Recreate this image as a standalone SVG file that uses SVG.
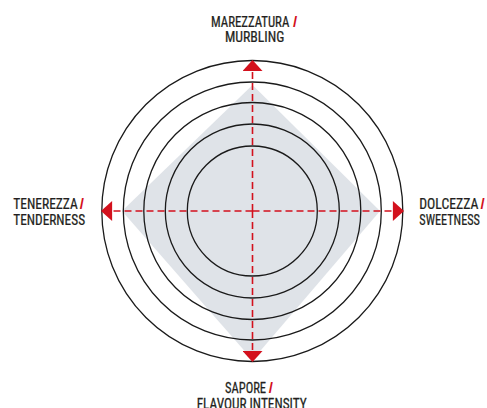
<svg xmlns="http://www.w3.org/2000/svg" width="487" height="408" viewBox="0 0 487 408">
<defs>
<style>
.ring{fill:none;stroke:#1a1a1a;stroke-width:1.3}
.axis{fill:none;stroke:#d3111d;stroke-width:1.6;stroke-dasharray:7 4}
.lbl{font-family:"Liberation Sans Narrow","Roboto Condensed","Liberation Sans",sans-serif;font-size:15px;fill:#231f20;stroke:#231f20;stroke-width:0.25}
.sl{font-family:"Liberation Sans Narrow","Liberation Sans",sans-serif;font-size:15px;font-weight:bold;fill:#d3111d}
</style>
<marker id="ah" markerUnits="userSpaceOnUse" markerWidth="12" markerHeight="20" viewBox="0 0 10 18" refX="10" refY="9" orient="auto-start-reverse">
<path d="M0,0 L10,9 L0,18 Z" fill="#d3111d"/>
</marker>
</defs>
<rect width="487" height="408" fill="#ffffff"/>
<g id="profile">
<polygon points="252.5,85 380,211 252.5,360 122,211" fill="#dfe3e8"/>
</g>
<g id="rings">
<circle class="ring" cx="252.3" cy="211" r="65"/>
<circle class="ring" cx="252.3" cy="211" r="87"/>
<circle class="ring" cx="252.3" cy="211" r="108.5"/>
<circle class="ring" cx="252.3" cy="211" r="129"/>
<circle class="ring" cx="252.3" cy="211" r="150.5"/>
</g>
<g id="connectors">
<line class="axis" x1="252.5" y1="211" x2="252.5" y2="60" marker-end="url(#ah)"/>
<line class="axis" x1="252.5" y1="211" x2="252.5" y2="362" marker-end="url(#ah)"/>
<line class="axis" x1="252.5" y1="211" x2="101" y2="211" marker-end="url(#ah)"/>
<line class="axis" x1="252.5" y1="211" x2="404" y2="211" marker-end="url(#ah)"/>
</g>
<g id="label-top">
<text class="lbl" transform="translate(211,26.5) scale(0.85,1)" textLength="92.1" lengthAdjust="spacingAndGlyphs">MAREZZATURA</text>
<text class="sl" x="293" y="26.5">/</text>
<text class="lbl" transform="translate(225,42) scale(0.91,1)" textLength="65.2" lengthAdjust="spacingAndGlyphs">MURBLING</text>
</g>
<g id="label-left">
<text class="lbl" transform="translate(13.3,209) scale(0.88,1)" textLength="73.2" lengthAdjust="spacingAndGlyphs">TENEREZZA</text>
<text class="sl" x="79.7" y="209">/</text>
<text class="lbl" transform="translate(13.3,224.6) scale(0.85,1)" textLength="84.4" lengthAdjust="spacingAndGlyphs">TENDERNESS</text>
</g>
<g id="label-right">
<text class="lbl" transform="translate(419.3,208.8) scale(0.9,1)" textLength="65.6" lengthAdjust="spacingAndGlyphs">DOLCEZZA</text>
<text class="sl" x="480.6" y="208.8">/</text>
<text class="lbl" transform="translate(419.3,224.8) scale(0.79,1)" textLength="76.8" lengthAdjust="spacingAndGlyphs">SWEETNESS</text>
</g>
<g id="label-bottom">
<text class="lbl" transform="translate(225,393.3) scale(0.8,1)" textLength="51.3" lengthAdjust="spacingAndGlyphs">SAPORE</text>
<text class="sl" x="268.7" y="393.3">/</text>
<text class="lbl" transform="translate(196.7,409) scale(0.87,1)" textLength="126.4" lengthAdjust="spacingAndGlyphs">FLAVOUR INTENSITY</text>
</g>
</svg>
